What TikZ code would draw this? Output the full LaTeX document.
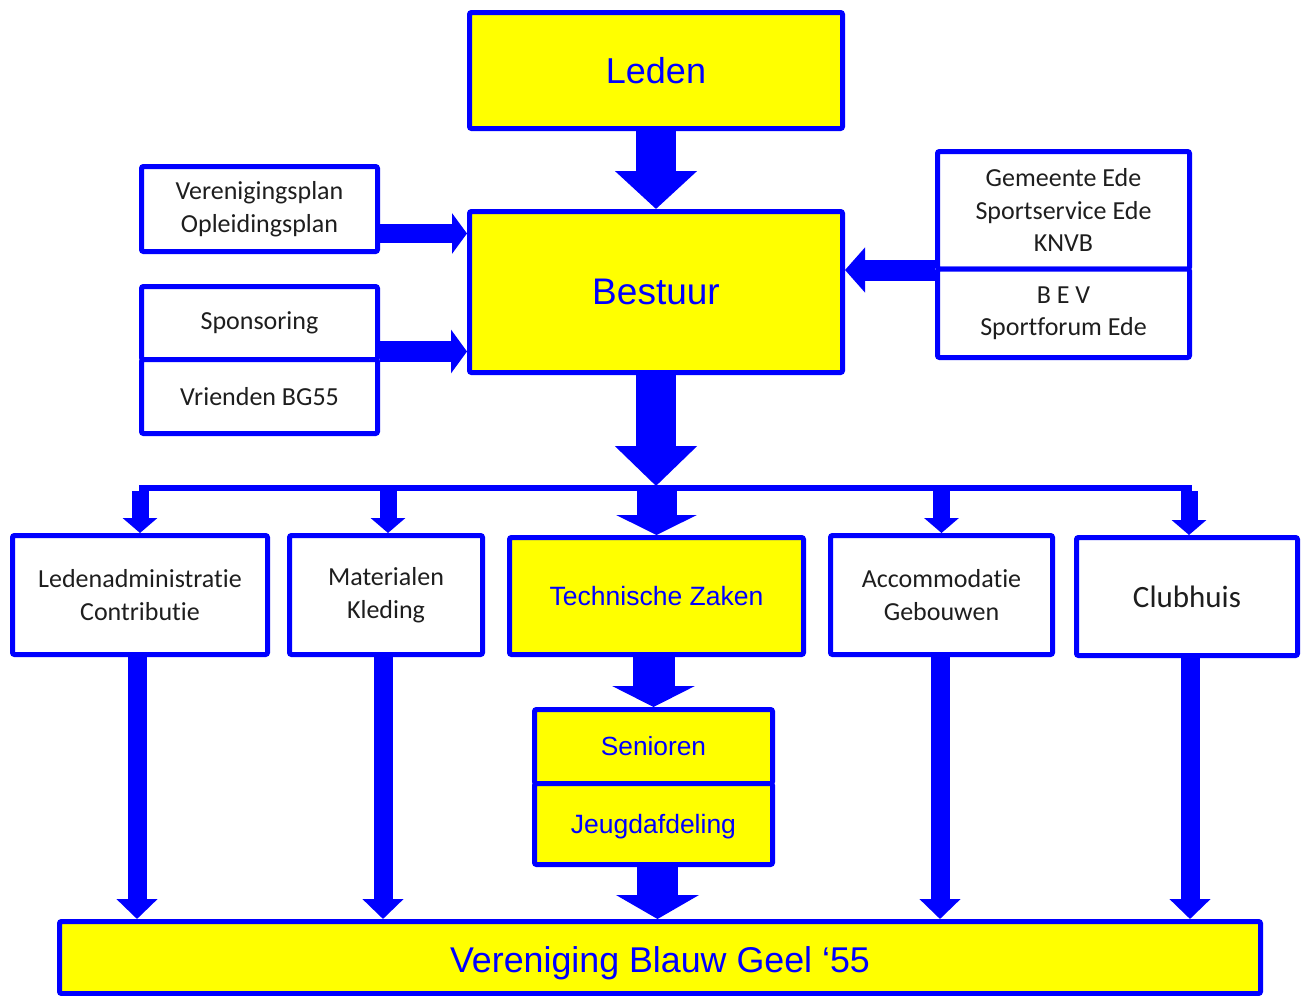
\documentclass[tikz,border=0pt]{standalone}
\usepackage{fontspec}
\setmainfont{Carlito}[Ligatures={NoCommon,NoContextual}]
\newfontfamily\arialfont{Liberation Sans}
\usetikzlibrary{arrows.meta}
\definecolor{bblue}{RGB}{0,0,255}
\definecolor{byellow}{RGB}{255,255,0}
\definecolor{txt}{RGB}{30,30,30}
\tikzset{
  wbox/.style={draw=bblue, line width=5pt, fill=white, rounded corners=2pt, inner sep=0pt,
    align=center, text=txt, font=\fontsize{26}{32.5}\selectfont},
  ybox/.style={draw=bblue, line width=5pt, fill=byellow, rounded corners=2pt, inner sep=0pt,
    align=center, text=bblue},
  bigarrow/.style={draw=bblue, line width=40pt, line cap=butt, -{Triangle[width=80pt,length=38pt]}},
  midarrow/.style={draw=bblue, line width=20pt, line cap=butt, -{Triangle[width=42pt,length=16pt]}},
  smallarrow/.style={draw=bblue, line width=17pt, line cap=butt, -{Triangle[width=34pt,length=15pt]}},
  longarrow/.style={draw=bblue, line width=19pt, line cap=butt, -{Triangle[width=40pt,length=20pt]}},
}
\begin{document}
\begin{tikzpicture}[x=1pt,y=-1pt]
\useasboundingbox (0,0) rectangle (1302,996);
% top boxes
\node[ybox, minimum width=373pt, minimum height=116pt, font=\arialfont\fontsize{36}{40}\selectfont] (leden) at (656,70.5) {Leden};
\node[ybox, minimum width=373pt, minimum height=161pt, font=\arialfont\fontsize{37}{40}\selectfont] (bestuur) at (656,292) {Bestuur};
\node[wbox, minimum width=236pt, minimum height=85pt] (verplan) at (259.5,209) {Verenigingsplan\\Opleidingsplan};
\node[wbox, minimum width=236pt, minimum height=73pt] (sponsor) at (259.5,323) {Sponsoring};
\node[wbox, minimum width=236pt, minimum height=74pt] (vrienden) at (259.5,396.5) {Vrienden BG55};
\node[wbox, minimum width=252pt, minimum height=117.5pt] (gemeente) at (1063.5,210.25) {Gemeente Ede\\Sportservice Ede\\KNVB};
\node[wbox, minimum width=252pt, minimum height=88.5pt] (bev) at (1063.5,313.25) {B E V\\Sportforum Ede};
% middle row
\node[wbox, minimum width=255pt, minimum height=119pt] (ledenadm) at (140,595) {Ledenadministratie\\Contributie};
\node[wbox, minimum width=193pt, minimum height=119pt] (materialen) at (386,595) {Materialen\\Kleding};
\node[ybox, minimum width=294pt, minimum height=117pt, font=\arialfont\fontsize{26.5}{30}\selectfont] (technische) at (656.5,596) {Technische Zaken};
\node[wbox, minimum width=222pt, minimum height=119pt] (accom) at (941.5,595) {Accommodatie\\Gebouwen};
\node[wbox, minimum width=221pt, minimum height=118pt, font=\fontsize{31}{36}\selectfont] (clubhuis) at (1187,596.5) {Clubhuis};
% lower
\node[ybox, minimum width=238pt, minimum height=74pt, font=\arialfont\fontsize{26.3}{30}\selectfont] (senioren) at (653.5,746.5) {Senioren};
\node[ybox, minimum width=238pt, minimum height=81pt, text height=19pt, text depth=0pt, font=\arialfont\fontsize{26.5}{30}\selectfont] (jeugd) at (653.5,824) {Jeugdafdeling};
\node[ybox, minimum width=1201pt, minimum height=72pt, text height=29pt, text depth=0pt, font=\arialfont\fontsize{35.8}{40}\selectfont] (vereniging) at (660,957.5) {Vereniging Blauw Geel ‘55};
% coordinates
\coordinate (ya) at (0,233.5);
\coordinate (yb) at (0,351.5);
\coordinate (yc) at (0,270);
\coordinate (barL) at (139,488);
\coordinate (barR) at (1192,488);
\coordinate (barB) at (0,491);
\coordinate (barT) at (0,486);
% arrows
\draw[bigarrow] (leden.south) -- (bestuur.north);
\draw[midarrow, line width=19pt, -{Triangle[width=40pt,length=15pt]}] (verplan.east |- ya) -- (bestuur.west |- ya);
\draw[midarrow, line width=21pt, -{Triangle[width=43pt,length=16pt]}] (sponsor.east |- yb) -- (bestuur.west |- yb);
\draw[midarrow, line width=21pt, -{Triangle[width=44pt,length=20pt]}] (gemeente.west |- yc) -- (bestuur.east |- yc);
\draw[bigarrow, -{Triangle[width=80pt,length=40pt]}] (bestuur.south) -- (bestuur.south |- barT);
\draw[draw=bblue, line width=6pt] (barL) -- (barR);
\draw[smallarrow] (ledenadm.north |- barB) -- (ledenadm.north);
\draw[smallarrow] ([xshift=2pt]materialen.north |- barB) -- ([xshift=2pt]materialen.north);
\draw[bigarrow, -{Triangle[width=80pt,length=20pt]}] (technische.north |- barB) -- (technische.north);
\draw[smallarrow] (accom.north |- barB) -- (accom.north);
\draw[smallarrow] ([xshift=2pt]clubhuis.north |- barB) -- ([xshift=2pt]clubhuis.north);
\draw[bigarrow, line width=42pt, -{Triangle[width=82pt,length=21pt]}] (technische.south -| senioren.north) -- (senioren.north);
\draw[bigarrow, line width=41pt, -{Triangle[width=82pt,length=24pt]}] ([xshift=4pt]jeugd.south) -- ([xshift=4pt]jeugd.south |- vereniging.north);
\draw[longarrow] ([xshift=-3pt]ledenadm.south) -- ([xshift=-3pt]ledenadm.south |- vereniging.north);
\draw[longarrow] ([xshift=-3pt]materialen.south) -- ([xshift=-3pt]materialen.south |- vereniging.north);
\draw[longarrow] ([xshift=-1.5pt]accom.south) -- ([xshift=-1.5pt]accom.south |- vereniging.north);
\draw[longarrow] ([xshift=3pt]clubhuis.south) -- ([xshift=3pt]clubhuis.south |- vereniging.north);
\end{tikzpicture}
\end{document}
